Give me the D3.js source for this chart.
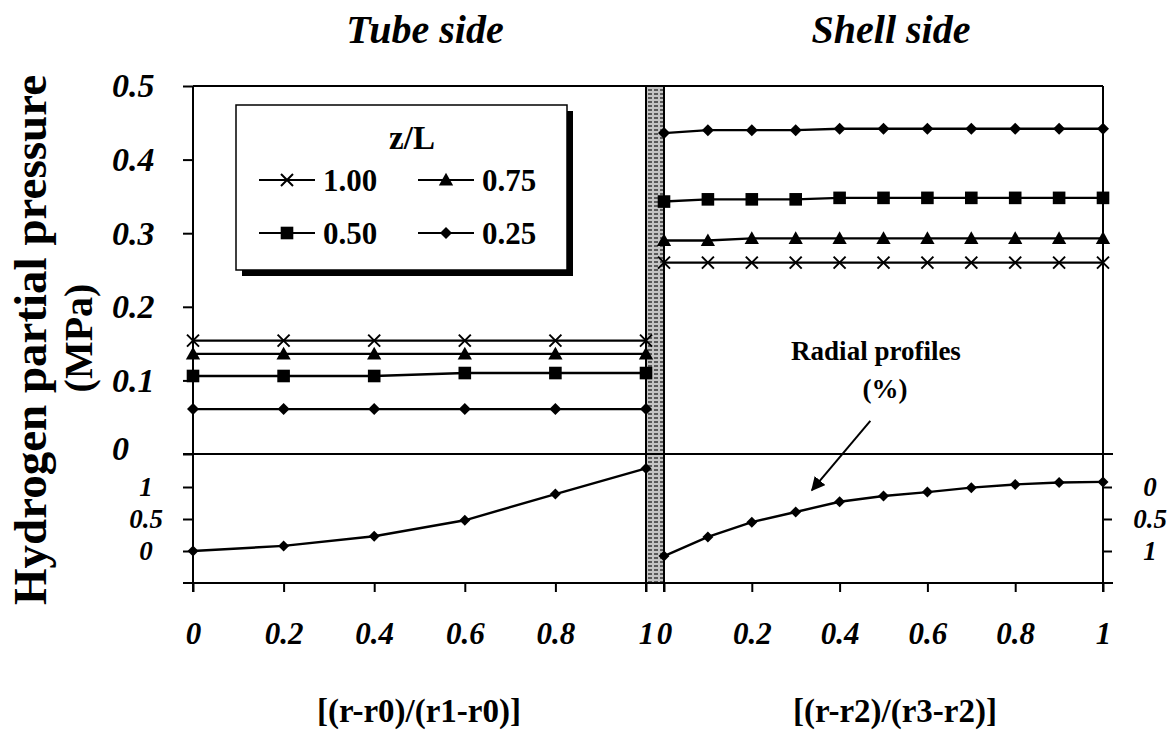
<!DOCTYPE html>
<html>
<head>
<meta charset="utf-8">
<script src="https://cdn.jsdelivr.net/npm/d3@7"></script>
<style>
  body { margin: 0; background: #fff; }
  svg text { font-family: "Liberation Serif", "Tinos", "Nimbus Roman", "Times New Roman", "Times", "FreeSerif", "DejaVu Serif", "Noto Serif", serif; font-weight: bold; fill: #000; }
</style>
</head>
<body>
<svg id="chart" width="1173" height="730"></svg>
<script>
// Dimensionless radial positions
const tubeX  = [0, 0.2, 0.4, 0.6, 0.8, 1.0];
const shellX = [0, 0.1, 0.2, 0.3, 0.4, 0.5, 0.6, 0.7, 0.8, 0.9, 1.0];

// Hydrogen partial pressure (MPa) on the tube side, one array per z/L
const tube100 = [0.154, 0.154, 0.154, 0.154, 0.154, 0.154];
const tube075 = [0.136, 0.136, 0.136, 0.136, 0.136, 0.136];
const tube050 = [0.106, 0.106, 0.106, 0.110, 0.110, 0.110];
const tube025 = [0.061, 0.061, 0.061, 0.061, 0.061, 0.061];

// Hydrogen partial pressure (MPa) on the shell side, one array per z/L
const shell100 = [0.260, 0.260, 0.260, 0.260, 0.260, 0.260, 0.260, 0.260, 0.260, 0.260, 0.260];
const shell075 = [0.290, 0.290, 0.293, 0.293, 0.293, 0.293, 0.293, 0.293, 0.293, 0.293, 0.293];
const shell050 = [0.343, 0.346, 0.346, 0.346, 0.348, 0.348, 0.348, 0.348, 0.348, 0.348, 0.348];
const shell025 = [0.436, 0.440, 0.440, 0.440, 0.442, 0.442, 0.442, 0.442, 0.442, 0.442, 0.442];

// Radial profiles (%)
const tubeProfile  = [0.00, 0.08, 0.23, 0.48, 0.89, 1.29];
const shellProfile = [1.08, 0.78, 0.55, 0.39, 0.23, 0.14, 0.08, 0.01, -0.04, -0.07, -0.08];

// Legend / series labels
const zLabels  = ["1.00", "0.75", "0.50", "0.25"];
const zMarkers = ["x", "tri", "sq", "dia"];

// Tick values and labels
const pressureTicks = [0, 0.1, 0.2, 0.3, 0.4, 0.5];
const pressureTickLabels = ["0", "0.1", "0.2", "0.3", "0.4", "0.5"];
const profileTicks = [0, 0.5, 1];
const profileTickLabels = ["0", "0.5", "1"];
const radialTicks = [0, 0.2, 0.4, 0.6, 0.8, 1];
const radialTickLabels = ["0", "0.2", "0.4", "0.6", "0.8", "1"];

const FONT = '"Liberation Serif", "Tinos", "Nimbus Roman", "Times New Roman", "Times", "FreeSerif", "DejaVu Serif", "Noto Serif", serif';
const svg = d3.select("#chart");
const SW = 2;

// Scales
const xL = d3.scaleLinear().domain([0, 1]).range([193, 646]);
const xR = d3.scaleLinear().domain([0, 1]).range([664, 1103]);
const yTop = d3.scaleLinear().domain([0, 0.5]).range([454, 86]);
const yLowL = d3.scaleLinear().domain([-0.5, 1.5]).range([583, 455]);
const yLowR = d3.scaleLinear().domain([-0.5, 1.5]).range([455, 583]);

// Membrane hatch pattern
const defs = svg.append("defs");
const pat = defs.append("pattern").attr("id", "membrane")
  .attr("patternUnits", "userSpaceOnUse").attr("width", 6).attr("height", 4);
pat.append("rect").attr("width", 6).attr("height", 4).attr("fill", "#c4c4c4");
pat.append("rect").attr("x", 0).attr("y", 1).attr("width", 4).attr("height", 2).attr("fill", "#5a5a5a");

defs.append("marker").attr("id", "arrowhead")
  .attr("viewBox", "0 0 10 10").attr("refX", 9).attr("refY", 5)
  .attr("markerWidth", 7).attr("markerHeight", 7).attr("markerUnits", "strokeWidth")
  .attr("orient", "auto")
  .append("path").attr("d", "M0,0L10,5L0,10Z").attr("fill", "#000");

// Membrane strip between the two sides
svg.append("rect")
  .attr("x", xL(1)).attr("y", yTop(0.5))
  .attr("width", xR(0) - xL(1)).attr("height", yLowL(-0.5) - yTop(0.5))
  .attr("fill", "url(#membrane)");
[xL(1), xR(0)].forEach(x => {
  svg.append("line").attr("x1", x).attr("x2", x)
    .attr("y1", yTop(0.5)).attr("y2", yLowL(-0.5) + 9)
    .attr("stroke", "#000").attr("stroke-width", SW);
});

// Frame
const frame = svg.append("g").attr("stroke", "#000").attr("stroke-width", SW).attr("fill", "none");
frame.append("line").attr("x1", xL(0)).attr("x2", xR(1)).attr("y1", yTop(0.5)).attr("y2", yTop(0.5));
frame.append("line").attr("x1", xL(0)).attr("x2", xL(0)).attr("y1", yTop(0.5)).attr("y2", yLowL(-0.5) + 9);
frame.append("line").attr("x1", xR(1)).attr("x2", xR(1)).attr("y1", yTop(0.5)).attr("y2", yLowL(-0.5) + 9);
frame.append("line").attr("x1", xL(0) - 10).attr("x2", xR(1) + 10).attr("y1", yTop(0)).attr("y2", yTop(0));
frame.append("line").attr("x1", xL(0) - 10).attr("x2", xR(1) + 10).attr("y1", yLowL(-0.5)).attr("y2", yLowL(-0.5));

function styleAxis(g, size) {
  g.attr("font-family", null);
  g.select(".domain").remove();
  g.selectAll(".tick line").attr("stroke", "#000").attr("stroke-width", SW);
  g.selectAll(".tick text")
    .style("font-family", FONT)
    .style("font-weight", "bold").style("font-style", "italic")
    .style("font-size", size + "px").attr("fill", "#000");
}

// Pressure axis (top-left)
const gTop = svg.append("g").attr("transform", `translate(${xL(0)},0)`)
  .call(d3.axisLeft(yTop).tickValues(pressureTicks)
    .tickFormat((d, i) => pressureTickLabels[i]).tickSize(10).tickPadding(0));
styleAxis(gTop, 34);
gTop.selectAll(".tick text").attr("x", -81).attr("text-anchor", "start");
gTop.selectAll(".tick").filter(d => d === 0).select("text").attr("dy", "0.15em");

// Profile axis (lower-left)
const gLowL = svg.append("g").attr("transform", `translate(${xL(0)},0)`)
  .call(d3.axisLeft(yLowL).tickValues(profileTicks)
    .tickFormat((d, i) => profileTickLabels[i]).tickSize(10));
styleAxis(gLowL, 27);
gLowL.selectAll(".tick text").attr("x", -47).attr("text-anchor", "middle");

// Profile axis (lower-right, reversed)
const gLowR = svg.append("g").attr("transform", `translate(${xR(1)},0)`)
  .call(d3.axisRight(yLowR).tickValues(profileTicks)
    .tickFormat((d, i) => profileTickLabels[i]).tickSize(9));
styleAxis(gLowR, 27);
gLowR.selectAll(".tick text").attr("x", 47).attr("text-anchor", "middle");

// Radial position axes
[xL, xR].forEach(sc => {
  const g = svg.append("g").attr("transform", `translate(0,${yLowL(-0.5)})`)
    .call(d3.axisBottom(sc).tickValues(radialTicks)
      .tickFormat((d, i) => radialTickLabels[i]).tickSize(9));
  styleAxis(g, 31);
  g.selectAll(".tick text").attr("y", 51).attr("dy", "0.32em");
});

// Markers
function marker(g, type, x, y, s) {
  if (type === "x") {
    g.append("path").attr("d", `M${x - s},${y - s}L${x + s},${y + s}M${x - s},${y + s}L${x + s},${y - s}`)
      .attr("stroke", "#000").attr("stroke-width", 2).attr("fill", "none");
  } else if (type === "tri") {
    g.append("path").attr("d", `M${x},${y - s * 1.1}L${x + s * 1.1},${y + s * 0.85}L${x - s * 1.1},${y + s * 0.85}Z`).attr("fill", "#000");
  } else if (type === "sq") {
    g.append("rect").attr("x", x - s).attr("y", y - s).attr("width", 2 * s).attr("height", 2 * s).attr("fill", "#000");
  } else {
    g.append("path").attr("d", `M${x},${y - s}L${x + s},${y}L${x},${y + s}L${x - s},${y}Z`).attr("fill", "#000");
  }
}

const markerSize = { x: 6, tri: 6.5, sq: 6.3, dia: 6 };
const line = (sx, sy) => d3.line().x(d => sx(d[0])).y(d => sy(d[1]));

function drawSeries(xs, ys, sx, sy, type, size) {
  const pts = xs.map((x, i) => [x, ys[i]]);
  const g = svg.append("g");
  g.append("path").datum(pts).attr("d", line(sx, sy))
    .attr("fill", "none").attr("stroke", "#000").attr("stroke-width", 2.4);
  pts.forEach(p => marker(g, type, sx(p[0]), sy(p[1]), size));
}

const tubeSeries  = [tube100, tube075, tube050, tube025];
const shellSeries = [shell100, shell075, shell050, shell025];
tubeSeries.forEach((s, i) => drawSeries(tubeX, s, xL, yTop, zMarkers[i], markerSize[zMarkers[i]]));
shellSeries.forEach((s, i) => drawSeries(shellX, s, xR, yTop, zMarkers[i], markerSize[zMarkers[i]]));

drawSeries(tubeX, tubeProfile, xL, yLowL, "dia", 5.5);
drawSeries(shellX, shellProfile, xR, yLowR, "dia", 5.5);

// Legend
const lg = svg.append("g").attr("transform", "translate(236,105)");
lg.append("rect").attr("x", 6).attr("y", 6).attr("width", 331).attr("height", 165).attr("fill", "#000");
lg.append("rect").attr("width", 331).attr("height", 165).attr("fill", "#fff")
  .attr("stroke", "#000").attr("stroke-width", 1.5);
lg.append("text").attr("x", 176).attr("y", 44).attr("text-anchor", "middle")
  .style("font-size", "33px").text("z/L");
zLabels.forEach((lab, i) => {
  const col = i % 2, row = Math.floor(i / 2);
  const x0 = 23 + col * 159, y0 = 75 + row * 53;
  lg.append("line").attr("x1", x0).attr("x2", x0 + 56).attr("y1", y0).attr("y2", y0)
    .attr("stroke", "#000").attr("stroke-width", 2);
  marker(lg, zMarkers[i], x0 + 28, y0, markerSize[zMarkers[i]]);
  lg.append("text").attr("x", x0 + 64).attr("y", y0 + 11).style("font-size", "31px").text(lab);
});

// Panel titles
svg.append("text").attr("x", 425).attr("y", 43)
  .attr("text-anchor", "middle").style("font-style", "italic").style("font-size", "40px").text("Tube side");
svg.append("text").attr("x", 891).attr("y", 43)
  .attr("text-anchor", "middle").style("font-style", "italic").style("font-size", "40px").text("Shell side");

// Axis titles
svg.append("text").attr("transform", "translate(46,340) rotate(-90)")
  .attr("text-anchor", "middle").style("font-size", "47px").text("Hydrogen partial pressure");
svg.append("text").attr("transform", "translate(92,338) rotate(-90)")
  .attr("text-anchor", "middle").style("font-size", "40px").text("(MPa)");
svg.append("text").attr("x", 419).attr("y", 722)
  .attr("text-anchor", "middle").style("font-size", "33px").text("[(r-r0)/(r1-r0)]");
svg.append("text").attr("x", 895).attr("y", 722)
  .attr("text-anchor", "middle").style("font-size", "33px").text("[(r-r2)/(r3-r2)]");

// Annotation
svg.append("text").attr("x", 876).attr("y", 360)
  .attr("text-anchor", "middle").style("font-size", "27px").text("Radial profiles");
svg.append("text").attr("x", 885).attr("y", 398)
  .attr("text-anchor", "middle").style("font-size", "27px").text("(%)");
svg.append("line")
  .attr("x1", xR(0.47)).attr("y1", yTop(0.045))
  .attr("x2", xR(0.337)).attr("y2", yLowR(0.05))
  .attr("stroke", "#000").attr("stroke-width", 2).attr("marker-end", "url(#arrowhead)");
</script>
</body>
</html>
